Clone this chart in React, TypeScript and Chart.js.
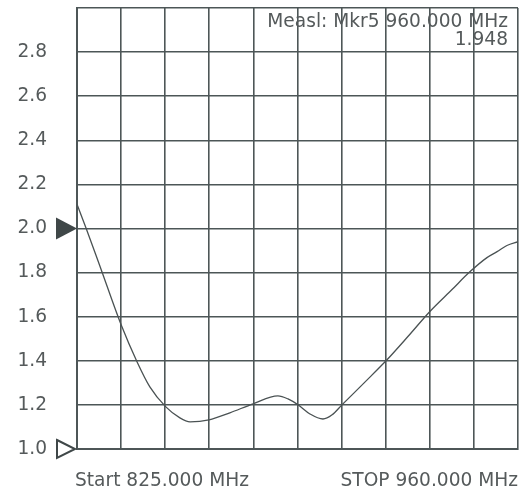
import React, { useEffect, useRef } from "react";
import { Chart, registerables } from "chart.js";

Chart.register(...registerables);

const freqs = [825, 827.7, 832.0, 838.6, 843.4, 847.3, 852.2, 856.5, 859.6, 865.4, 871.8, 878.9, 886.5, 889.6, 892.7, 896.3, 900.3, 903.1, 906.1, 912.9, 919.6, 926.3, 933.1, 939.8, 945.0, 950.5, 953.6, 956.6, 960];
const vswr = [2.11, 2.005, 1.83, 1.56, 1.395, 1.282, 1.191, 1.141, 1.123, 1.132, 1.164, 1.205, 1.241, 1.227, 1.2, 1.159, 1.136, 1.155, 1.2, 1.3, 1.4, 1.51, 1.625, 1.723, 1.8, 1.868, 1.895, 1.923, 1.94];
const startLabel = "Start 825.000 MHz";
const stopLabel = "STOP 960.000 MHz";
const markerLines = ["Measl: Mkr5 960.000 MHz", "1.948"];
const refLevel = 2.0;
const baseLevel = 1.0;

const FAMILY = "'DejaVu Sans', Verdana, sans-serif";
const FONT = "18.6px " + FAMILY;
const TEXT = "#555a5b";
const GRID = "#4d5657";

const overlay = {
  id: "overlay",
  beforeDatasetsDraw(chart: any) {
    const ctx = chart.ctx;
    const area = chart.chartArea;
    ctx.save();
    ctx.font = FONT;
    ctx.fillStyle = TEXT;
    ctx.textAlign = "right";
    ctx.textBaseline = "alphabetic";
    ctx.fillText(markerLines[0], area.right - 10, 27);
    ctx.fillText(markerLines[1], area.right - 10, 45);
    ctx.restore();
  },
  afterDraw(chart: any) {
    const ctx = chart.ctx;
    const area = chart.chartArea;
    const y = chart.scales.y;
    ctx.save();
    const yr = y.getPixelForValue(refLevel);
    ctx.fillStyle = "#3f4748";
    ctx.beginPath();
    ctx.moveTo(area.left - 21, yr - 11);
    ctx.lineTo(area.left, yr);
    ctx.lineTo(area.left - 21, yr + 11);
    ctx.closePath();
    ctx.fill();
    const yb = y.getPixelForValue(baseLevel);
    ctx.strokeStyle = "#3f4748";
    ctx.lineWidth = 2;
    ctx.beginPath();
    ctx.moveTo(area.left - 20, yb - 9);
    ctx.lineTo(area.left - 2, yb);
    ctx.lineTo(area.left - 20, yb + 9);
    ctx.closePath();
    ctx.stroke();
    ctx.font = FONT;
    ctx.fillStyle = TEXT;
    ctx.textBaseline = "alphabetic";
    ctx.textAlign = "left";
    ctx.fillText(startLabel, area.left - 2, 486);
    ctx.textAlign = "right";
    ctx.fillText(stopLabel, area.right, 486);
    ctx.restore();
  },
};

export default function App() {
  const ref = useRef<HTMLCanvasElement>(null);
  useEffect(() => {
    if (!ref.current) return;
    const chart = new Chart(ref.current, {
      type: "line",
      data: {
        datasets: [
          {
            data: freqs.map((f, i) => ({ x: f, y: vswr[i] })),
            borderColor: "#4a5253",
            borderWidth: 1.3,
            pointRadius: 0,
            cubicInterpolationMode: "monotone",
            fill: false,
          },
        ],
      },
      options: {
        animation: false,
        responsive: false,
        maintainAspectRatio: false,
        layout: { padding: { top: 8, right: 14, bottom: 41, left: 0 } },
        plugins: { legend: { display: false }, tooltip: { enabled: false } },
        scales: {
          x: {
            type: "linear",
            min: 825,
            max: 960,
            ticks: { display: false, stepSize: 13.5 },
            grid: { color: GRID, lineWidth: 1.6, drawTicks: false },
            border: { color: GRID, width: 2 },
            afterFit: (s: any) => {
              s.height = 0;
              s.paddingLeft = 0;
              s.paddingRight = 0;
            },
          },
          y: {
            min: 1.0,
            max: 3.0,
            ticks: {
              stepSize: 0.2,
              padding: 30,
              color: TEXT,
              font: { family: FAMILY, size: 18.6 },
              callback: (v: any) => (Math.abs(v - 3) < 1e-6 ? "" : Number(v).toFixed(1)),
            },
            grid: { color: GRID, lineWidth: 1.6, drawTicks: false },
            border: { color: GRID, width: 2 },
            afterFit: (s: any) => {
              s.width = 77;
              s.paddingTop = 0;
              s.paddingBottom = 0;
            },
          },
        },
      },
      plugins: [overlay],
    });
    return () => chart.destroy();
  }, []);
  return (
    <div style={{ position: "fixed", left: 0, top: 0, width: 532, height: 490, background: "#fff" }}>
      <canvas ref={ref} width={532} height={490} style={{ width: 532, height: 490 }} />
    </div>
  );
}
